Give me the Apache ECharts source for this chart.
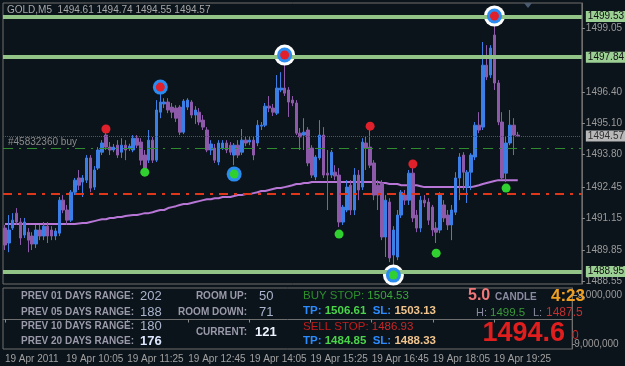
<!DOCTYPE html>
<html>
<head>
<meta charset="utf-8">
<script src="https://cdn.jsdelivr.net/npm/echarts@6/dist/echarts.min.js"></script>
<style>
html, body { margin: 0; padding: 0; background: #0c141b; }
#chart { width: 625px; height: 366px; }
</style>
</head>
<body>
<div id="chart"></div>
<script>
// GOLD M5, 19 Apr 2011, one bar = 5 min starting 08:45
// [open, close, low, high]
var candles = [
    [1490.75, 1490.05, 1489.84, 1490.88], [1490.13, 1490.67, 1489.75, 1491.29], [1490.75, 1491.08, 1490.67, 1491.37],
    [1491.37, 1491.00, 1490.88, 1491.58], [1491.00, 1490.34, 1490.05, 1491.17], [1490.46, 1491.00, 1490.34, 1491.17],
    [1490.58, 1490.25, 1489.75, 1490.75], [1490.42, 1490.09, 1489.84, 1490.58], [1490.09, 1490.67, 1489.92, 1490.88],
    [1490.67, 1490.42, 1490.25, 1490.88], [1490.42, 1490.83, 1490.25, 1491.00], [1490.83, 1490.42, 1490.13, 1491.00],
    [1490.67, 1490.42, 1490.25, 1490.83], [1490.42, 1490.63, 1490.25, 1490.75], [1490.54, 1491.91, 1490.42, 1492.04],
    [1491.91, 1491.50, 1491.37, 1492.12], [1491.50, 1491.08, 1490.88, 1491.71], [1491.08, 1492.24, 1491.00, 1492.33],
    [1492.24, 1492.74, 1492.12, 1492.83], [1492.83, 1492.53, 1492.33, 1493.16], [1492.66, 1492.83, 1492.04, 1492.95],
    [1492.74, 1493.66, 1492.62, 1493.78], [1493.66, 1492.41, 1492.24, 1493.78], [1492.45, 1493.16, 1492.33, 1493.32],
    [1493.24, 1493.99, 1493.16, 1494.11], [1493.90, 1494.28, 1493.78, 1494.40], [1494.61, 1494.11, 1493.99, 1494.82],
    [1494.11, 1493.99, 1493.78, 1494.32], [1493.99, 1494.11, 1493.90, 1494.24], [1494.19, 1493.78, 1493.66, 1494.40],
    [1493.90, 1494.19, 1493.66, 1494.48], [1494.19, 1493.99, 1493.57, 1494.40], [1494.05, 1494.15, 1493.95, 1494.25],
    [1493.99, 1494.48, 1493.90, 1494.61], [1494.48, 1494.19, 1494.07, 1494.61], [1494.32, 1493.57, 1493.36, 1494.48],
    [1493.78, 1493.24, 1493.16, 1493.99], [1493.57, 1494.40, 1493.45, 1494.82], [1494.40, 1493.57, 1493.45, 1494.53],
    [1493.57, 1495.65, 1493.49, 1496.06], [1495.56, 1495.98, 1495.31, 1496.56], [1495.90, 1495.98, 1495.73, 1496.14],
    [1495.98, 1495.65, 1495.52, 1496.14], [1495.77, 1495.56, 1495.31, 1495.94], [1495.73, 1495.31, 1495.15, 1495.85],
    [1495.77, 1494.73, 1494.61, 1495.85], [1494.73, 1496.02, 1494.65, 1496.10], [1495.77, 1496.06, 1495.65, 1496.14],
    [1495.98, 1495.44, 1495.31, 1496.06], [1495.44, 1495.65, 1495.07, 1495.81], [1495.56, 1495.15, 1495.02, 1495.73],
    [1495.23, 1494.94, 1494.82, 1495.44], [1494.82, 1493.99, 1493.90, 1494.94], [1493.99, 1494.24, 1493.78, 1494.40],
    [1494.07, 1493.57, 1493.45, 1494.24], [1493.49, 1494.28, 1493.36, 1494.40], [1494.07, 1494.28, 1493.99, 1494.40],
    [1494.28, 1493.99, 1493.86, 1494.40], [1494.19, 1493.90, 1493.78, 1494.32], [1493.78, 1494.19, 1493.36, 1494.28],
    [1494.19, 1493.78, 1493.66, 1494.40], [1493.90, 1494.40, 1493.78, 1494.86], [1494.40, 1494.28, 1494.15, 1494.53],
    [1494.32, 1494.40, 1494.19, 1494.53], [1494.40, 1493.78, 1493.57, 1494.53], [1494.28, 1495.02, 1494.15, 1495.23],
    [1494.98, 1495.02, 1494.82, 1495.15], [1495.02, 1495.81, 1494.94, 1495.94], [1495.81, 1495.73, 1495.56, 1496.23],
    [1495.73, 1495.56, 1495.40, 1495.90], [1495.52, 1496.56, 1495.44, 1497.10], [1496.48, 1496.56, 1496.39, 1497.22],
    [1496.56, 1496.35, 1496.23, 1497.64], [1496.48, 1495.98, 1495.36, 1496.60], [1496.06, 1495.94, 1495.81, 1496.23],
    [1495.94, 1494.69, 1494.61, 1496.06], [1494.69, 1494.53, 1493.99, 1494.90], [1494.61, 1494.73, 1493.99, 1495.31],
    [1494.82, 1493.45, 1493.32, 1494.94], [1494.07, 1492.95, 1492.83, 1494.19], [1492.87, 1493.70, 1492.74, 1493.78],
    [1493.66, 1494.61, 1493.57, 1495.23], [1494.61, 1492.95, 1492.83, 1494.94], [1493.03, 1492.95, 1491.50, 1493.99],
    [1492.95, 1493.90, 1492.83, 1493.99], [1493.07, 1492.91, 1492.74, 1493.36], [1492.95, 1491.00, 1490.79, 1493.24],
    [1491.00, 1491.62, 1490.88, 1491.71], [1491.50, 1492.45, 1491.41, 1492.74], [1492.53, 1491.50, 1491.29, 1492.74],
    [1491.50, 1492.95, 1491.29, 1493.24], [1492.95, 1492.33, 1491.91, 1493.16], [1492.45, 1494.32, 1492.33, 1494.48],
    [1494.28, 1494.07, 1493.16, 1494.57], [1494.11, 1493.36, 1493.24, 1494.82], [1493.45, 1492.12, 1491.91, 1493.57],
    [1492.53, 1492.12, 1491.50, 1492.74], [1492.62, 1490.38, 1490.25, 1492.74], [1490.38, 1491.91, 1489.55, 1492.12],
    [1491.83, 1489.51, 1489.34, 1491.99], [1489.63, 1490.67, 1489.22, 1490.83], [1489.55, 1491.29, 1489.42, 1491.50],
    [1491.29, 1492.24, 1491.17, 1492.33], [1492.12, 1491.91, 1491.71, 1492.33], [1491.91, 1493.03, 1491.71, 1493.16],
    [1493.03, 1491.17, 1491.00, 1493.24], [1491.29, 1490.75, 1490.58, 1491.50], [1490.75, 1491.91, 1490.58, 1492.08],
    [1491.91, 1491.79, 1491.62, 1492.12], [1491.83, 1491.08, 1490.88, 1491.99], [1491.62, 1490.67, 1490.42, 1491.71],
    [1490.75, 1490.58, 1490.13, 1491.00], [1490.67, 1492.12, 1490.54, 1492.24], [1491.71, 1491.17, 1491.00, 1491.91],
    [1491.29, 1490.88, 1490.67, 1491.50], [1490.88, 1491.50, 1490.25, 1491.71], [1491.41, 1492.83, 1491.29, 1493.07],
    [1492.83, 1493.70, 1491.91, 1493.86], [1493.78, 1493.07, 1492.33, 1493.90], [1492.45, 1493.07, 1491.79, 1493.16],
    [1493.07, 1493.78, 1492.33, 1493.86], [1493.70, 1495.02, 1493.57, 1495.15], [1495.02, 1494.82, 1494.69, 1495.56],
    [1494.94, 1497.51, 1494.82, 1498.47], [1497.51, 1497.02, 1496.89, 1498.34], [1497.10, 1498.22, 1496.98, 1498.34],
    [1498.76, 1496.77, 1496.48, 1499.30], [1496.77, 1495.15, 1495.02, 1496.89], [1495.15, 1492.83, 1492.74, 1495.56],
    [1493.03, 1494.28, 1492.66, 1494.53], [1494.28, 1495.02, 1494.19, 1495.65], [1495.02, 1494.61, 1493.78, 1495.31],
    [1494.61, 1494.57, 1494.55, 1494.74]
];

// slow moving average
var maValues = [
    1490.92, 1490.92, 1490.92, 1490.92, 1490.92, 1490.92, 1490.92, 1490.92, 1490.92, 1490.92,
    1490.92, 1490.92, 1490.92, 1490.92, 1490.92, 1490.92, 1490.92, 1490.92, 1490.92, 1490.94,
    1490.96, 1490.96, 1491.00, 1491.04, 1491.08, 1491.12, 1491.12, 1491.17, 1491.17, 1491.21,
    1491.21, 1491.25, 1491.27, 1491.29, 1491.29, 1491.33, 1491.37, 1491.37, 1491.41, 1491.46,
    1491.50, 1491.50, 1491.58, 1491.62, 1491.66, 1491.71, 1491.75, 1491.75, 1491.79, 1491.83,
    1491.87, 1491.91, 1491.95, 1491.95, 1491.99, 1491.99, 1492.04, 1492.04, 1492.04, 1492.08,
    1492.12, 1492.12, 1492.16, 1492.16, 1492.20, 1492.24, 1492.29, 1492.29, 1492.33, 1492.37,
    1492.41, 1492.41, 1492.45, 1492.49, 1492.53, 1492.58, 1492.58, 1492.62, 1492.62, 1492.66,
    1492.66, 1492.66, 1492.66, 1492.66, 1492.66, 1492.66, 1492.66, 1492.66, 1492.66, 1492.66,
    1492.66, 1492.66, 1492.66, 1492.66, 1492.66, 1492.66, 1492.66, 1492.62, 1492.62, 1492.58,
    1492.58, 1492.58, 1492.53, 1492.53, 1492.53, 1492.53, 1492.53, 1492.49, 1492.45, 1492.45,
    1492.45, 1492.45, 1492.45, 1492.45, 1492.45, 1492.45, 1492.45, 1492.45, 1492.45, 1492.45,
    1492.45, 1492.49, 1492.53, 1492.58, 1492.62, 1492.66, 1492.70, 1492.74, 1492.74, 1492.74,
    1492.74, 1492.74, 1492.74
];

var barSlots = 149; // visible width incl. empty right shift
var priceTicks = [1499.05, 1496.40, 1495.10, 1493.80, 1492.45, 1491.15, 1489.85, 1488.55];
var subTicks = [-9000000, 9000000];
var timeLabels = ['19 Apr 2011', '19 Apr 10:05', '19 Apr 11:25', '19 Apr 12:45', '19 Apr 14:05',
    '19 Apr 15:25', '19 Apr 16:45', '19 Apr 18:05', '19 Apr 19:25'];

var levelLines = [1499.53, 1497.84, 1488.95];
var bidPrice = 1494.57;
var orderPrice = 1494.07;
var stopPrice = 1492.16;

// fractal markers [bar, price]
var upMarks = [[26, 1494.86], [40, 1496.60], [72, 1497.93], [94, 1494.98], [105, 1493.41], [126, 1499.55]];
var downMarks = [[36, 1493.07], [59, 1492.99], [86, 1490.50], [100, 1488.80], [111, 1489.71], [129, 1492.41]];
var ringMarks = [[40, 1496.60], [72, 1497.93], [126, 1499.55], [59, 1492.99], [100, 1488.80]];
var bigRingMarks = [[72, 1497.93], [126, 1499.55], [100, 1488.80]];

// info panel
var rangeLabels = ['PREV 01 DAYS RANGE:', 'PREV 05 DAYS RANGE:', 'PREV 10 DAYS RANGE:', 'PREV 20 DAYS RANGE:'];
var rangeValues = [202, 188, 180, 176];
var roomLabels = ['ROOM UP:', 'ROOM DOWN:', 'CURRENT:'];
var roomValues = [50, 71, 121];
var buyStop = ['1504.53', '1506.61', '1503.13'];   // entry, tp, sl
var sellStop = ['1486.93', '1484.85', '1488.33'];
var spread = '5.0', timeLeft = '4:23', dayHigh = '1499.5', dayLow = '1487.5', bigPrice = '1494.6', lastDigit = '0';

var FONT = '"Liberation Sans", Arial, sans-serif';
var cats = [];
for (var i = 0; i < barSlots; i++) cats.push(String(i));

function showTick(index) {
    return index % 16 === 0 && index < candles.length;
}

function txt(x, y, text, color, size, bold, align) {
    return {
        type: 'text', x: x, y: y, silent: true, z: 20,
        style: {
            text: text, fill: color, align: align || 'left', verticalAlign: 'middle',
            font: (bold ? 'bold ' : '') + size + 'px ' + FONT
        }
    };
}

// one line of mixed colours
function richTxt(x, y, text, rich) {
    return {
        type: 'text', x: x, y: y, silent: true, z: 20,
        style: { text: text, rich: rich, verticalAlign: 'middle', font: '11px ' + FONT }
    };
}

function level(value, color, bg, fg, type, width, withLabel) {
    return {
        yAxis: value,
        lineStyle: { color: color, type: type, width: width },
        label: withLabel ? {
            show: true, position: 'end', distance: 4,
            formatter: function (p) { return p.value.toFixed(2); },
            backgroundColor: bg, color: fg, fontSize: 10, fontFamily: FONT, padding: [1, 2, 0, 2]
        } : { show: false }
    };
}

function rs(color, bold) {
    return { fill: color, fontSize: 11.5, fontWeight: bold ? 'bold' : 'normal', fontFamily: FONT };
}
var stopRich = {
    buy: rs('#2c8f2c'), buyV: rs('#3aa83a'),
    sell: rs('#c41c1c'), sellV: rs('#c82828'),
    k: rs('#2c8cff', true), tp: rs('#4ad44a', true), sl: rs('#f0c48c', true)
};

var graphics = [
    txt(7, 10, 'GOLD,M5  1494.61 1494.74 1494.55 1494.57', '#a8a8a8', 10, false),
    txt(8, 142, '#45832360 buy', '#8c8c8c', 10, false),
    { type: 'polygon', silent: true, shape: { points: [[524, 3], [532, 3], [528, 8]] }, style: { fill: '#4a5a70' } }
];
var rowY = [296, 312, 326, 341];
rangeLabels.forEach(function (t, k) {
    graphics.push(txt(21, rowY[k], t, '#9a9aaa', 10, true));
    graphics.push(txt(140, rowY[k], String(rangeValues[k]), k === 3 ? '#dce8ff' : '#aab4cc', 13, k === 3));
});
var roomY = [296, 312, 332];
roomLabels.forEach(function (t, k) {
    graphics.push(txt(247, roomY[k], t, '#9a9aaa', 10, true, 'right'));
    graphics.push(txt(k === 2 ? 255 : 259, roomY[k], String(roomValues[k]), k === 2 ? '#eef4ff' : '#aab4cc', 13, k === 2));
});
graphics.push(
    richTxt(303, 296, '{buy|BUY STOP: }{buyV|' + buyStop[0] + '}', stopRich),
    richTxt(303, 311, '{k|TP: }{tp|' + buyStop[1] + '}{k|  SL: }{sl|' + buyStop[2] + '}', stopRich),
    richTxt(303, 327, '{sell|SELL STOP: }{sellV|' + sellStop[0] + '}', stopRich),
    richTxt(303, 341, '{k|TP: }{tp|' + sellStop[1] + '}{k|  SL: }{sl|' + sellStop[2] + '}', stopRich),
    txt(468, 296, spread, '#f07878', 16, true),
    txt(495, 297, 'CANDLE', '#8a8aa0', 10, true),
    txt(585, 296, timeLeft, '#f0a020', 17, true, 'right'),
    txt(476, 313, 'H:', '#8a8aa0', 11, false),
    txt(490, 313, dayHigh, '#3a9a3a', 11.5, false),
    txt(533, 313, 'L:', '#8a8aa0', 11, false),
    txt(546, 313, dayLow, '#c03030', 12, false),
    txt(565, 334, bigPrice, '#e01e1e', 27, true, 'right'),
    txt(572, 336, lastDigit, '#e01e1e', 12, false)
);

var chart = echarts.init(document.getElementById('chart'));
chart.setOption({
    backgroundColor: '#0c141b',
    animation: false,
    grid: [
        { left: 3, top: 3, width: 584, height: 281, show: true, borderColor: '#6e6e6e', borderWidth: 1 },
        { left: 3, top: 288, width: 584, height: 61, show: true, borderColor: '#6e6e6e', borderWidth: 1 }
    ],
    xAxis: [
        {
            type: 'category', gridIndex: 0, data: cats, boundaryGap: true,
            axisLine: { show: false }, axisTick: { show: false }, axisLabel: { show: false }, splitLine: { show: false }
        },
        {
            type: 'category', gridIndex: 1, data: cats, boundaryGap: true,
            axisLine: { show: true, lineStyle: { color: '#6e6e6e' } },
            axisTick: { show: true, interval: showTick, alignWithLabel: true, length: 3, lineStyle: { color: '#8a8a8a' } },
            axisLabel: {
                interval: showTick, align: 'left', margin: 5, color: '#a0a0a0', fontSize: 10, fontFamily: FONT,
                formatter: function (v) { return timeLabels[Number(v) / 16] || ''; }
            },
            splitLine: { show: false }
        }
    ],
    yAxis: [
        {
            type: 'value', gridIndex: 0, position: 'right', min: 1488.43, max: 1500.09,
            splitLine: { show: false },
            axisLine: { show: true, lineStyle: { color: '#6e6e6e' } },
            axisTick: { show: true, customValues: priceTicks, length: 3, lineStyle: { color: '#8a8a8a' } },
            axisLabel: {
                customValues: priceTicks, margin: 4, color: '#9a9a9a', fontSize: 10, fontFamily: FONT,
                formatter: function (v) { return v.toFixed(2); }
            }
        },
        {
            type: 'value', gridIndex: 1, position: 'right', inverse: true, min: -11625000, max: 10875000,
            splitLine: { show: false },
            axisLine: { show: true, lineStyle: { color: '#6e6e6e' } },
            axisTick: { show: true, customValues: subTicks, length: 3, lineStyle: { color: '#8a8a8a' } },
            axisLabel: { customValues: subTicks, margin: 2, color: '#9a9a9a', fontSize: 10, fontFamily: FONT }
        }
    ],
    series: [
        {
            name: 'MA', type: 'line', data: maValues, xAxisIndex: 0, yAxisIndex: 0, z: 2,
            showSymbol: false, silent: true,
            lineStyle: { color: '#b877d6', width: 2 },
            markLine: {
                symbol: ['none', 'none'], silent: true,
                data: [
                    level(orderPrice, '#2e8b2e', null, null, [10, 6, 2, 6], 1, false),
                    level(stopPrice, '#e0361a', null, null, [9, 6, 3, 6], 2, false),
                    level(bidPrice, '#4c5470', '#b8b8b8', '#303030', 'dotted', 1, true),
                    level(levelLines[0], '#92c488', '#9ccf94', '#101010', 'solid', 4, true),
                    level(levelLines[1], '#92c488', '#9ccf94', '#101010', 'solid', 4, true),
                    level(levelLines[2], '#92c488', '#9ccf94', '#101010', 'solid', 4, true)
                ]
            }
        },
        {
            name: 'GOLD', type: 'candlestick', data: candles, xAxisIndex: 0, yAxisIndex: 0, z: 3,
            barWidth: 3, silent: true,
            itemStyle: { color: '#3a7ee6', color0: '#8c5aa8', borderColor: '#3a7ee6', borderColor0: '#8c5aa8', borderWidth: 1 }
        },
        {
            type: 'scatter', data: bigRingMarks, z: 4, symbolSize: 21, silent: true,
            itemStyle: { color: '#ffffff', opacity: 1 }
        },
        {
            type: 'scatter', data: ringMarks, z: 5, symbolSize: 15, silent: true,
            itemStyle: { color: '#2a8cf0', opacity: 1 }
        },
        {
            type: 'scatter', data: upMarks, z: 6, symbolSize: 9, silent: true,
            itemStyle: { color: '#e0202a', opacity: 1 }
        },
        {
            type: 'scatter', data: downMarks, z: 6, symbolSize: 9, silent: true,
            itemStyle: { color: '#30d030', opacity: 1 }
        }
    ],
    graphic: { elements: graphics }
});
</script>
</body>
</html>
